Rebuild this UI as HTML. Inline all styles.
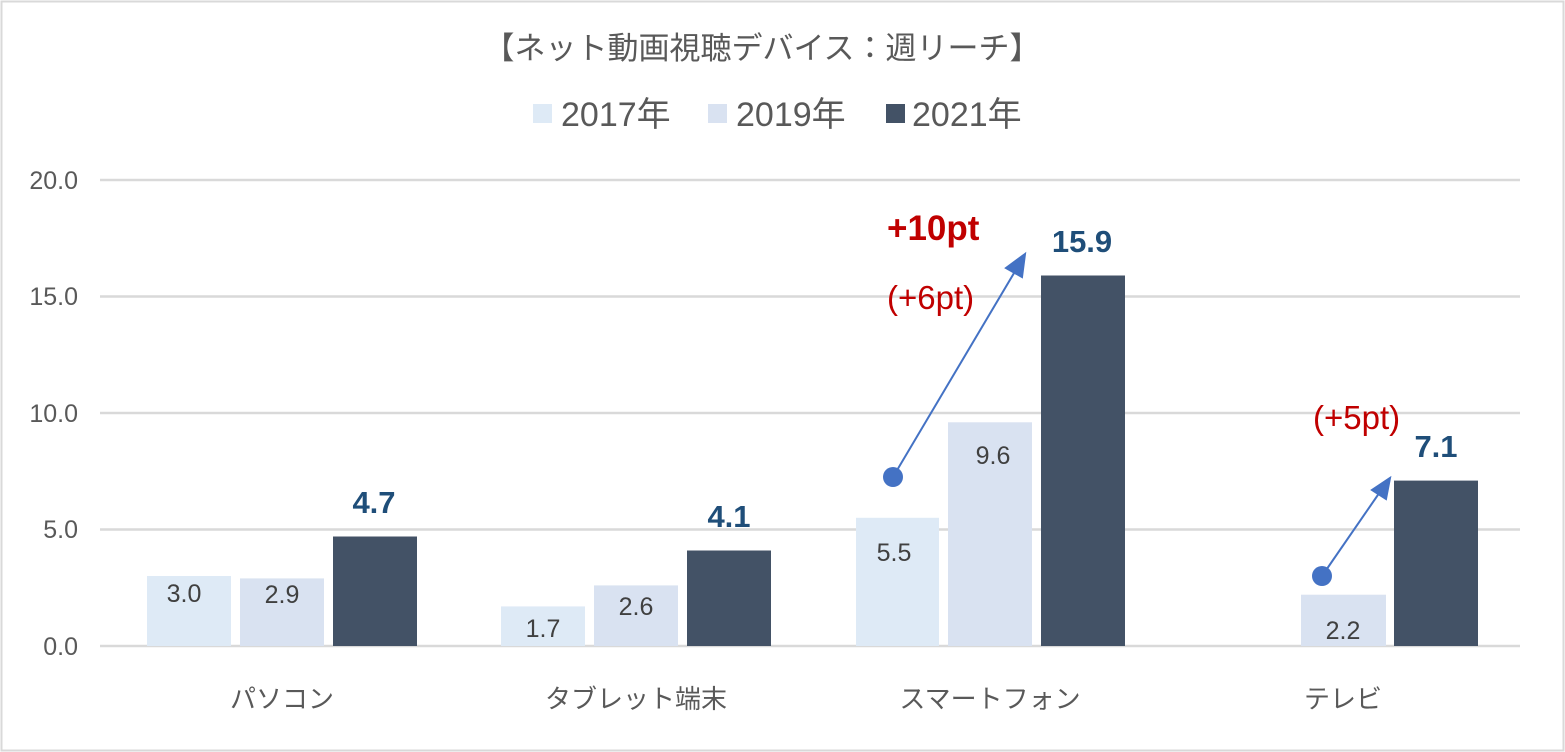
<!DOCTYPE html><html><head><meta charset="utf-8"><style>body{margin:0;background:#fff}svg{display:block}text{font-family:"Liberation Sans","Noto Sans CJK JP",sans-serif}</style></head><body>
<svg width="1565" height="752" viewBox="0 0 1565 752">
<rect x="1.5" y="1.5" width="1562" height="749" fill="#fff" stroke="#d9d9d9" stroke-width="2"/>
<text x="762" y="59" font-size="31" fill="#595959" text-anchor="middle">【ネット動画視聴デバイス：週リーチ】</text>
<rect x="533" y="104" width="19" height="19" fill="#deeaf6"/><text x="561" y="126" font-size="34" fill="#595959">2017年</text>
<rect x="708" y="104" width="19" height="19" fill="#d9e2f1"/><text x="736" y="126" font-size="34" fill="#595959">2019年</text>
<rect x="886" y="104" width="19" height="19" fill="#435266"/><text x="912" y="126" font-size="34" fill="#595959">2021年</text>
<g stroke="#d9d9d9" stroke-width="2.5">
<line x1="100" y1="180" x2="1520" y2="180"/><line x1="100" y1="296.5" x2="1520" y2="296.5"/><line x1="100" y1="413" x2="1520" y2="413"/><line x1="100" y1="529.5" x2="1520" y2="529.5"/><line x1="100" y1="646" x2="1520" y2="646"/></g>
<g font-size="25" fill="#595959" text-anchor="end">
<text x="78" y="189">20.0</text><text x="78" y="305">15.0</text><text x="78" y="422">10.0</text><text x="78" y="538">5.0</text><text x="78" y="655">0.0</text></g>
<g fill="#deeaf6"><rect x="147" y="576" width="84" height="70"/><rect x="501" y="606.4" width="84" height="39.6"/><rect x="856" y="517.8" width="83" height="128.2"/></g>
<g fill="#d9e2f1"><rect x="240" y="578.4" width="84" height="67.6"/><rect x="594" y="585.4" width="84" height="60.6"/><rect x="948" y="422.3" width="84" height="223.7"/><rect x="1301" y="594.7" width="85" height="51.3"/></g>
<g fill="#435266"><rect x="333" y="536.5" width="84" height="109.5"/><rect x="687" y="550.5" width="84" height="95.5"/><rect x="1041" y="275.5" width="84" height="370.5"/><rect x="1394" y="480.6" width="84" height="165.4"/></g>
<g font-size="25" fill="#404040" text-anchor="middle">
<text x="184" y="602">3.0</text><text x="282" y="603">2.9</text><text x="543" y="637">1.7</text><text x="636" y="615">2.6</text><text x="894" y="561">5.5</text><text x="993" y="464">9.6</text><text x="1343" y="639">2.2</text></g>
<g font-size="31" font-weight="bold" fill="#1f4e79" text-anchor="middle">
<text x="374" y="513">4.7</text><text x="729" y="527">4.1</text><text x="1082" y="252">15.9</text><text x="1436" y="457">7.1</text></g>
<g font-size="26" fill="#595959" text-anchor="middle">
<text x="282" y="708">パソコン</text><text x="636" y="708">タブレット端末</text><text x="990" y="708">スマートフォン</text><text x="1343" y="708">テレビ</text></g>
<g stroke="#4472c4" stroke-width="2" fill="#4472c4">
<line x1="893" y1="477" x2="1017" y2="268"/><polygon points="1025,254 1006,268 1022,277"/><circle cx="893" cy="477" r="10" stroke="none"/>
<line x1="1322" y1="576" x2="1382" y2="489"/><polygon points="1390,478 1372,490 1386,499"/><circle cx="1322" cy="576" r="10" stroke="none"/></g>
<g fill="#c00000"><text x="887" y="240" font-size="35" font-weight="bold">+10pt</text><text x="887" y="309" font-size="33">(+6pt)</text><text x="1313" y="429" font-size="33">(+5pt)</text></g>
</svg></body></html>
